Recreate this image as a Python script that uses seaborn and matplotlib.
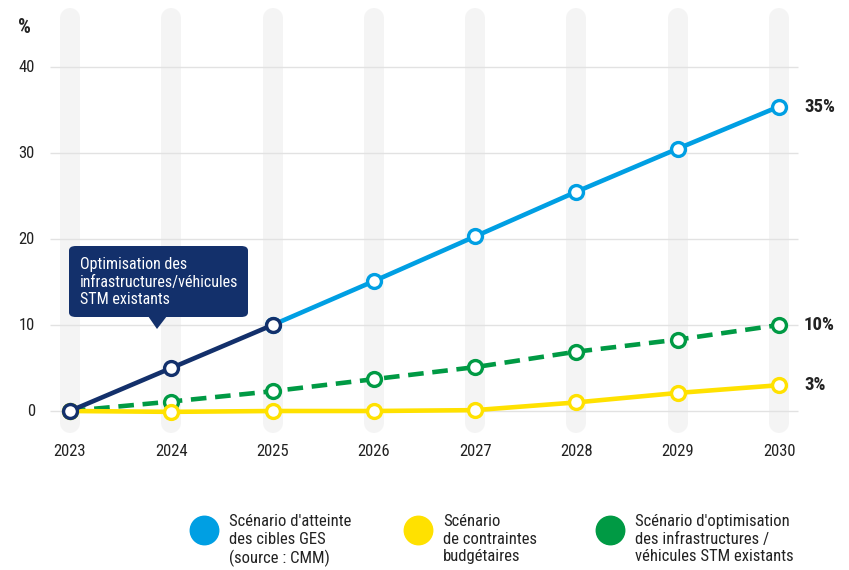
import matplotlib
matplotlib.use("Agg")
import matplotlib.pyplot as plt
from matplotlib import font_manager
import seaborn as sns
import pandas as pd
from matplotlib.patches import FancyBboxPatch, Polygon

# Data
years = [2023, 2024, 2025, 2026, 2027, 2028, 2029, 2030]
ges_years = [2025, 2026, 2027, 2028, 2029, 2030]
ges_values = [10.0, 15.1, 20.3, 25.5, 30.5, 35.4]
stm_years = [2023, 2024, 2025]
stm_values = [0.0, 5.0, 10.0]
optim_values = [0.0, 1.1, 2.3, 3.7, 5.1, 6.9, 8.3, 10.0]
budget_values = [0.0, -0.1, 0.0, 0.0, 0.1, 1.0, 2.1, 3.0]
y_ticks = [0, 10, 20, 30, 40]
end_labels = ["35%", "10%", "3%"]
end_values = [35.4, 10.0, 3.0]
tooltip_text = "Optimisation des\ninfrastructures/véhicules\nSTM existants"
legend_labels = [
    "Scénario d'atteinte\ndes cibles GES\n(source : CMM)",
    "Scénario\nde contraintes\nbudgétaires",
    "Scénario d'optimisation\ndes infrastructures /\nvéhicules STM existants",
]

BLUE = "#009fe3"
NAVY = "#13306b"
GREEN = "#009a44"
YELLOW = "#ffe100"
TXT = "#222222"

sns.set_style("white")
installed = {f.name for f in font_manager.fontManager.ttflist}
narrow = [f for f in ["Roboto Condensed", "Liberation Sans Narrow", "Lato"] if f in installed]
plt.rcParams["font.family"] = narrow[:1] + ["DejaVu Sans"]

W, H = 849, 570
fig = plt.figure(figsize=(W / 100, H / 100), dpi=100)
ax = fig.add_axes([0, 0, 1, 1])

# pixel mapping: 2023 -> x=70, 2030 -> x=779 ; 0 -> y=411, 10 -> y=325 (from top)
px_year = (779 - 70) / 7
px_unit = 8.6
ax.set_xlim(2023 - 70 / px_year, 2023 + (W - 70) / px_year)
ax.set_ylim(-(H - 411) / px_unit, 411 / px_unit)
ax.axis("off")


def py(v):
    # pixel row (from top) -> data y
    return (411 - v) / px_unit


# grey pill columns
vl = ax.vlines(years, py(433 - 10), py(8 + 10), colors="#f4f4f4",
               linewidth=20 * 0.72, zorder=0)
vl.set_capstyle("round")

# horizontal grid
ax.hlines(y_ticks, 2023 - 20 / px_year, 2023 + (798 - 70) / px_year,
          colors="#e2e2e2", linewidth=1.0, zorder=1)

for t in y_ticks:
    ax.text(2023 - 35 / px_year, t, str(t), ha="right", va="center",
            fontsize=12, color=TXT)
ax.text(2023 - 52 / px_year, py(27), "%", ha="left", va="center",
        fontsize=14.5, fontweight="bold", color=TXT)
for y in years:
    ax.text(y, py(451), str(y), ha="center", va="center", fontsize=12, color=TXT)

line_kw = dict(linewidth=3.3, marker="o", markersize=10, markerfacecolor="white",
               markeredgewidth=2.4)

optim = pd.DataFrame({"year": years, "value": optim_values})
sns.lineplot(data=optim, x="year", y="value", ax=ax, color=GREEN,
             markeredgecolor=GREEN, zorder=3, **line_kw)
ax.lines[-1].set_dashes([3.4, 1.9])

budget = pd.DataFrame({"year": years, "value": budget_values})
sns.lineplot(data=budget, x="year", y="value", ax=ax, color=YELLOW,
             markeredgecolor=YELLOW, zorder=4, **line_kw)

ges = pd.DataFrame({"year": ges_years, "value": ges_values})
sns.lineplot(data=ges, x="year", y="value", ax=ax, color=BLUE,
             markeredgecolor=BLUE, zorder=5, **line_kw)

stm = pd.DataFrame({"year": stm_years, "value": stm_values})
sns.lineplot(data=stm, x="year", y="value", ax=ax, color=NAVY,
             markeredgecolor=NAVY, zorder=6, **line_kw)

# end labels
for lab, v in zip(end_labels, end_values):
    ax.text(2030 + 25 / px_year, v, lab, ha="left", va="center", fontsize=13.5,
            fontweight="bold", color=TXT)

# tooltip (in figure pixel coords)
tr = fig.transFigure
box = FancyBboxPatch((69 / W, 1 - 317 / H), (248 - 69) / W, (317 - 246) / H,
                     boxstyle="round,pad=0,rounding_size=0.008",
                     transform=tr, facecolor=NAVY, edgecolor="none", zorder=7)
fig.patches.append(box)
tip = Polygon([(148 / W, 1 - 316 / H), (167 / W, 1 - 316 / H), (157 / W, 1 - 329 / H)],
              closed=True, transform=tr, facecolor=NAVY, edgecolor="none", zorder=7)
fig.patches.append(tip)
fig.text(80 / W, 1 - 282 / H, tooltip_text, ha="left", va="center", fontsize=11.5,
         color="white", linespacing=1.25, zorder=8)

# legend
leg_colors = [BLUE, YELLOW, GREEN]
leg_cx = [204, 418, 610]
for c, cx, lab in zip(leg_colors, leg_cx, legend_labels):
    ax.plot([2023 + (cx - 70) / px_year], [py(530)], marker="o", markersize=20.5,
            color=c, linestyle="none", clip_on=False)
    fig.text((cx + 25) / W, 1 - 514 / H, lab, ha="left", va="top", fontsize=12,
             color=TXT, linespacing=1.22)

fig.savefig("out.png", dpi=100)
